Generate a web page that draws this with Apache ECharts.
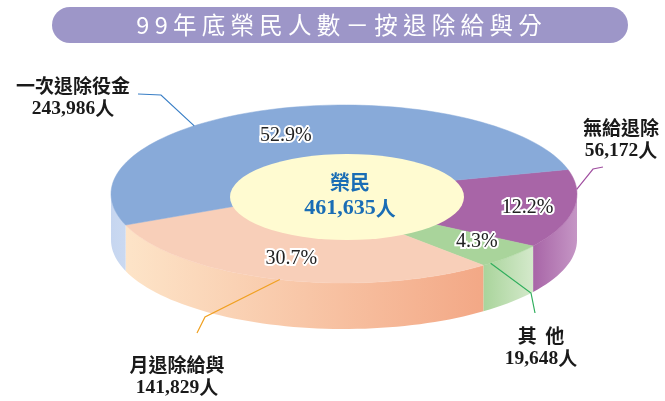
<!DOCTYPE html>
<html>
<head>
<meta charset="utf-8">
<script src="https://cdn.jsdelivr.net/npm/echarts@6/dist/echarts.min.js"></script>
<style>
  html, body { margin: 0; background: #fff; }
  #chart { width: 665px; height: 401px; }
</style>
</head>
<body>
<div id="chart"></div>
<script>
// 資料
const titleText = '99年底榮民人數－按退除給與分';
const centerName = '榮民';
const categories = ['無給退除', '其  他', '月退除給與', '一次退除役金'];
const counts = [56172, 19648, 141829, 243986];

// 顏色
const topColors = ['#a865a7', '#a9d49b', '#f8cfb9', '#88aad9'];
const sideColors = [['#a865a7', '#c596c5'], ['#a9d49b', '#d4e9cb'], ['#fde4c8', '#f3a886'], ['#c6d6f0', '#cad9f1']];
const lineColors = ['#a04fa0', '#2fae5c', '#f0a020', '#3a7fc6'];

// 版面 (apex = 扇形頂點, 偏左一點以模擬透視)
const pie = { cx: 344, cy: 194, rx: 233, ry: 89, depth: 46, start: -14, ax: 300, ay: 195 };
const pctPos = { kx: 0.8, ky: 0.72, dy: 3 };
const labelPos = [[621, 139], [541, 347], [177, 376], [73, 97]];
const leaderRim = [-3, 51, 106, -130];
const leaderBends = [[[593, 169], [603, 167]], [[531, 293], [535, 313]], [[205, 317], [197, 333]], [[161, 95], [138, 94]]];

const total = counts.reduce((a, b) => a + b, 0);
const angles = [];
let acc = pie.start;
counts.forEach(v => {
  const span = v / total * 360;
  angles.push([acc, acc + span]);
  acc += span;
});

const nax = (pie.ax - pie.cx) / pie.rx, nay = (pie.ay - pie.cy) / pie.ry;

function fmt(n) {
  return n.toString().replace(/\B(?=(\d{3})+(?!\d))/g, ',');
}
// 橢圓參數角 -> 座標
function pt(deg, k, dy) {
  const r = deg * Math.PI / 180;
  return [pie.cx + pie.rx * k * Math.cos(r), pie.cy + pie.ry * k * Math.sin(r) + (dy || 0)];
}
// 由頂點出發的角度 -> 邊緣的橢圓參數角
function rimParam(phi) {
  const r = phi * Math.PI / 180;
  const dx = Math.cos(r), dy = Math.sin(r);
  const b = nax * dx + nay * dy;
  const t = -b + Math.sqrt(b * b - (nax * nax + nay * nay - 1));
  let th = Math.atan2(nay + t * dy, nax + t * dx) * 180 / Math.PI;
  while (th < phi - 180) th += 360;
  while (th > phi + 180) th -= 360;
  return th;
}
function arc(t0, t1, dy) {
  const n = Math.max(2, Math.ceil(Math.abs(t1 - t0) / 2));
  const pts = [];
  for (let j = 0; j <= n; j++) pts.push(pt(t0 + (t1 - t0) * j / n, 1, dy));
  return pts;
}

function renderItem(params, api) {
  const i = params.dataIndex;
  const t0 = rimParam(angles[i][0]);
  let t1 = rimParam(angles[i][1]);
  while (t1 <= t0) t1 += 360;
  const children = [];
  // 側面 (只畫前半圈)
  [-360, 0, 360].forEach(base => {
    const s0 = Math.max(t0, base), s1 = Math.min(t1, base + 180);
    if (s1 > s0) {
      const pts = arc(s0, s1, 0).concat(arc(s1, s0, pie.depth));
      children.push({
        type: 'polygon',
        shape: { points: pts },
        style: {
          fill: new echarts.graphic.LinearGradient(0, 0, 1, 0, [
            { offset: 0, color: sideColors[i][0] },
            { offset: 1, color: sideColors[i][1] }
          ])
        },
        z2: 1
      });
    }
  });
  // 頂面
  children.push({
    type: 'polygon',
    shape: { points: [[pie.ax, pie.ay]].concat(arc(t0, t1, 0)) },
    style: { fill: topColors[i], stroke: topColors[i], lineWidth: 0.5 },
    z2: 2
  });
  const m = ((t0 + t1) / 2) * Math.PI / 180;
  const lx = pie.cx + pie.rx * pctPos.kx * Math.cos(m);
  const ly = pie.cy + pie.ry * pctPos.ky * Math.sin(m) + pctPos.dy;
  const pctText = (counts[i] / total * 100).toFixed(1) + '%';
  const txt = {
    text: pctText,
    fontFamily: 'Liberation Serif', fontSize: 20,
    align: 'center', verticalAlign: 'middle'
  };
  children.push({
    type: 'text', x: lx, y: ly,
    style: Object.assign({ fill: '#fff', stroke: '#fff', lineWidth: 4 }, txt),
    z2: 20
  });
  children.push({
    type: 'text', x: lx, y: ly,
    style: Object.assign({ fill: '#222' }, txt),
    z2: 21
  });
  return { type: 'group', children: children };
}

const graphics = [
  {
    type: 'rect',
    shape: { x: 52, y: 7, width: 576, height: 36, r: 18 },
    style: { fill: '#9d96c8' },
    z: 10
  },
  {
    type: 'text',
    x: 339, y: 25,
    style: {
      text: titleText.split('').join(' '),
      fontFamily: 'Noto Sans CJK TC', fontSize: 23.5,
      fill: '#fff', align: 'center', verticalAlign: 'middle'
    },
    z: 11
  },
  {
    type: 'circle',
    x: 347, y: 197, scaleY: 43 / 117,
    shape: { cx: 0, cy: 0, r: 117 },
    style: { fill: '#fffbd1' },
    z: 10
  },
  {
    type: 'text',
    x: 350, y: 195,
    style: {
      text: '{n|' + centerName + '}\n{v|' + fmt(total) + '}{u|人}',
      align: 'center', verticalAlign: 'middle',
      rich: {
        n: { fontFamily: 'Noto Sans CJK TC', fontWeight: 'bold', fontSize: 20, lineHeight: 26, fill: '#1a6db5' },
        v: { fontFamily: 'Liberation Serif', fontWeight: 'bold', fontSize: 22, lineHeight: 26, fill: '#1a6db5' },
        u: { fontFamily: 'Noto Sans CJK TC', fontWeight: 'bold', fontSize: 20, lineHeight: 26, fill: '#1a6db5' }
      }
    },
    z: 11
  }
];

categories.forEach((name, i) => {
  graphics.push({
    type: 'text',
    x: labelPos[i][0], y: labelPos[i][1],
    style: {
      text: '{n|' + name + '}\n{v|' + fmt(counts[i]) + '}{u|人}',
      align: 'center', verticalAlign: 'middle',
      rich: {
        n: { fontFamily: 'Noto Sans CJK TC', fontWeight: 'bold', fontSize: 19, lineHeight: 23, fill: '#1a1a1a' },
        v: { fontFamily: 'Liberation Serif', fontWeight: 'bold', fontSize: 19.5, lineHeight: 23, fill: '#1a1a1a' },
        u: { fontFamily: 'Noto Sans CJK TC', fontWeight: 'bold', fontSize: 19, lineHeight: 23, fill: '#1a1a1a' }
      }
    },
    z: 11
  });
  graphics.push({
    type: 'polyline',
    shape: { points: [pt(leaderRim[i], 1)].concat(leaderBends[i]) },
    style: { stroke: lineColors[i], lineWidth: 1.2, fill: null },
    z: 11
  });
});

const chart = echarts.init(document.getElementById('chart'));
chart.setOption({
  animation: false,
  graphic: graphics,
  series: [{
    type: 'custom',
    coordinateSystem: 'none',
    renderItem: renderItem,
    data: counts.map((v, i) => [i, v])
  }]
});
window.addEventListener('resize', () => chart.resize());
</script>
</body>
</html>
